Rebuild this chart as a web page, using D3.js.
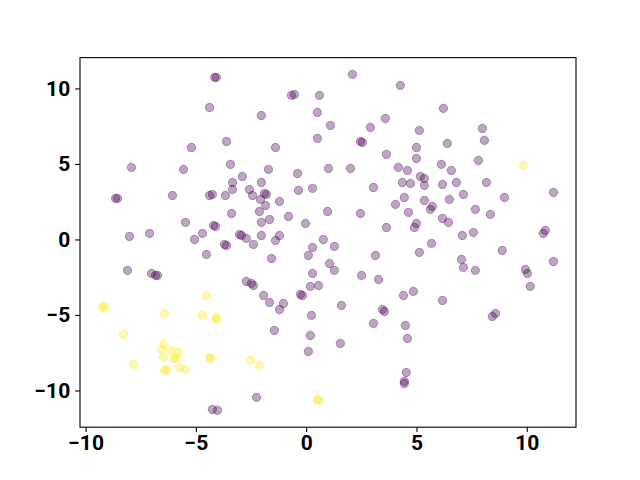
<!DOCTYPE html>
<html>
<head>
<meta charset="utf-8">
<script src="https://cdn.jsdelivr.net/npm/d3@7"></script>
<style>
  body { margin: 0; background: #fff; }
  svg { display: block; }
  .tick text { font-family: Roboto, sans-serif; font-weight: bold; font-size: 21px; fill: #000; }
</style>
</head>
<body>
<div id="chart"></div>
<script>
"use strict";

// class 0 points (dark purple)
const purpleX = [2.10, -4.15, -4.07, -0.67, -0.53, 0.60, 4.27, -4.38, -2.03, 0.51, 6.22, -3.61, -1.39, 0.51,
    -5.20, -7.92, -5.56, -3.43, -1.71, -2.89, -0.39, -3.34, -3.34, -2.03, 1.01, 1.10, 3.59, 2.91, 5.13,
    2.46, 2.55, 5.00, 6.40, 3.64, 5.00, 6.13, 2.01, 4.18, 4.59, 6.58, 5.18, 5.36, 4.36, 4.73, 5.36, 6.18,
    7.99, 8.08, 7.81, 6.81, 8.17,
    -8.64, -8.55, -6.06, -5.47, -4.70, -5.06, -8.01, -7.10, -4.52, -8.10, -7.01, -6.83, -6.74, -2.57,
    -4.38, -4.25, -3.66, -2.43, -1.89, -1.80, -2.07, -1.21, -0.35, 0.29, -1.84, -2.12, -3.38, -1.66,
    -0.80, -2.03, -0.03, 0.97, -4.20, -4.11, -3.02, -2.93, -2.71, -2.03, -1.21, -1.39, -2.39, -3.70,
    -3.61, 0.78, 0.29, 0.10, -1.57, 1.06, 0.29, -2.71, -2.48, -2.39, 0.19, 0.56, -0.26, -0.17, -1.93,
    -1.66, -1.03, 3.05, 4.45, 5.36, 4.05, 5.72, 5.63, 6.49, 2.46, 4.64, 6.18, 6.45, 5.00, 4.91, 3.64,
    5.68, 5.13, 1.28, 3.14, 1.28, 2.51, 3.28, 4.86, 4.41, 6.18, 1.60, 7.13, 8.99, 11.21, 7.67, 8.35,
    7.08, 7.58, 10.84, 10.75, 8.89, 7.04, 7.13, 7.67, 9.94, 10.03, 11.21, 10.16,
    -1.21, 0.24, -1.44, 0.19, 0.10, -2.25, -4.25, -4.02, 3.46, 3.55, 3.05, 4.50, 4.59, 1.55, 4.54,
    4.45, 4.45, 8.58, 8.44];
const purpleY = [10.93, 10.73, 10.73, 9.54, 9.60, 9.54, 10.20, 8.74, 8.21, 8.41, 8.68, 6.49, 6.09, 6.69,
    6.09, 4.77, 4.64, 4.97, 4.64, 4.17, 4.37, 3.77, 3.31, 3.77, 4.70, 7.55, 8.01, 7.42, 7.22,
    6.49, 6.42, 6.09, 6.36, 5.63, 5.36, 4.97, 4.70, 4.77, 4.57, 4.57, 4.17, 4.04, 3.77, 3.71, 3.58, 3.64,
    7.35, 6.56, 5.23, 3.77, 3.77,
    2.72, 2.72, 2.91, 1.13, 0.40, 0.00, 0.20, 0.40, -0.99, -2.05, -2.25, -2.38, -2.38, 3.31,
    2.91, 2.98, 2.91, 2.91, 3.05, 2.98, 2.65, 2.52, 3.25, 3.38, 2.25, 1.85, 1.72, 1.32,
    1.52, 1.13, 1.06, 1.85, 0.93, 0.86, 0.33, 0.26, 0.07, 0.26, 0.26, -0.07, -0.33, -0.33,
    -0.40, 0.00, -0.53, -1.06, -1.26, -1.59, -2.25, -2.78, -2.91, -3.05, -3.11, -3.05, -3.64, -3.71, -3.71,
    -4.17, -4.24, 3.44, 2.78, 2.58, 2.32, 2.19, 1.99, 2.65, 1.72, 1.79, 1.39, 1.13, 1.06, 0.79, 0.79,
    -0.26, -0.86, -0.46, -1.06, -2.05, -2.38, -2.65, -3.44, -3.71, -4.04, -4.37, 2.98, 2.78, 3.11, 1.99, 1.66,
    0.26, 0.46, 0.60, 0.40, -0.73, -1.32, -1.85, -2.05, -1.99, -2.25, -1.46, -3.11,
    -4.64, -5.03, -6.03, -6.36, -7.42, -10.46, -11.26, -11.32, -4.64, -4.77, -5.56, -5.70, -6.56, -6.89, -8.81,
    -9.40, -9.54, -4.90, -5.10];

// class 1 points (yellow)
const yellowX = [9.85, -4.52, -9.23, -9.14, -6.42, -4.70, -4.06, -4.06, -8.28, -6.47, -6.56, -6.15, -5.79,
    -6.47, -6.01, -5.88, -7.83, -5.74, -5.47, -6.42, -6.33, -4.38, -4.34, -2.52, -2.12, 0.51, 0.56];
const yellowY = [4.90, -3.71, -4.50, -4.44, -4.90, -5.03, -5.17, -5.30, -6.29, -6.95, -7.28, -7.35, -7.48,
    -7.81, -7.88, -7.88, -8.28, -8.48, -8.61, -8.68, -8.61, -7.81, -7.88, -8.01, -8.34, -10.60, -10.66];

const xTickValues = [-10, -5, 0, 5, 10];
const xTickLabels = ["−10", "−5", "0", "5", "10"];
const yTickValues = [-10, -5, 0, 5, 10];
const yTickLabels = ["−10", "−5", "0", "5", "10"];

const classColors = ["#440154", "#fde725"];

// build one list of points from the arrays
const points = purpleX.map((x, i) => ({ x: x, y: purpleY[i], c: 0 }))
    .concat(yellowX.map((x, i) => ({ x: x, y: yellowY[i], c: 1 })));

// set the dimensions and margins of the graph (matplotlib default layout)
var margin = { top: 57.6, right: 64, bottom: 52.8, left: 80 },
    width = 640 - margin.left - margin.right,
    height = 480 - margin.top - margin.bottom;

var svg = d3.select("#chart")
    .append("svg")
    .attr("width", 640)
    .attr("height", 480)
    .append("g")
    .attr("transform", "translate(" + margin.left + "," + margin.top + ")");

// 5% padding on each side, like autoscale
const padded = (ext) => {
    const p = (ext[1] - ext[0]) * 0.05;
    return [ext[0] - p, ext[1] + p];
};

var x = d3.scaleLinear()
    .domain(padded(d3.extent(points, d => d.x)))
    .range([0, width]);

var y = d3.scaleLinear()
    .domain(padded(d3.extent(points, d => d.y)))
    .range([height, 0]);

// points
svg.append("g")
    .selectAll("circle")
    .data(points)
    .enter()
    .append("circle")
    .attr("cx", d => x(d.x))
    .attr("cy", d => y(d.y))
    .attr("r", 4.17)
    .attr("fill", d => classColors[d.c])
    .attr("fill-opacity", 0.35)
    .attr("stroke", d => classColors[d.c])
    .attr("stroke-opacity", 0.35)
    .attr("stroke-width", 1);

// frame
svg.append("rect")
    .attr("width", width)
    .attr("height", height)
    .attr("fill", "none")
    .attr("stroke", "#000")
    .attr("stroke-width", 1.1);

// axes
var xAxis = svg.append("g")
    .attr("transform", "translate(0," + height + ")")
    .call(d3.axisBottom(x).tickValues(xTickValues)
        .tickFormat((d, i) => xTickLabels[i])
        .tickSize(4.9).tickPadding(3.5));

var yAxis = svg.append("g")
    .call(d3.axisLeft(y).tickValues(yTickValues)
        .tickFormat((d, i) => yTickLabels[i])
        .tickSize(4.9).tickPadding(4.9));

[xAxis, yAxis].forEach(a => {
    a.select(".domain").remove();
    a.selectAll(".tick line").attr("stroke", "#000").attr("stroke-width", 1.1);
});
</script>
</body>
</html>
